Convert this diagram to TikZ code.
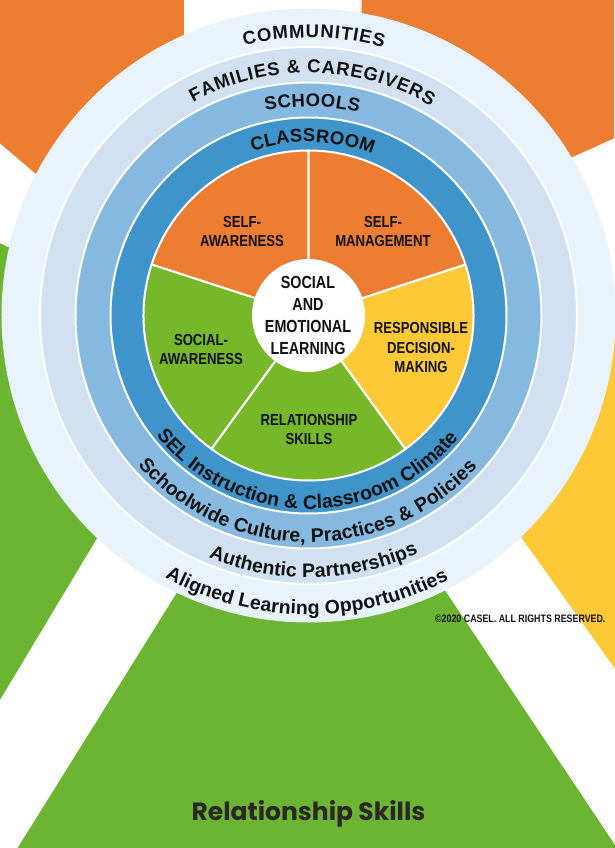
\documentclass[tikz,border=0pt]{standalone}
\usepackage{fontspec}
\setmainfont{Liberation Sans}
\newfontfamily\narrowfont[FakeStretch=0.82]{Liberation Sans}
\newfontfamily\headfont{Poppins}
\usetikzlibrary{decorations.text}
\definecolor{orangeC}{HTML}{ED7D31}
\definecolor{greenC}{HTML}{76B82A}
\definecolor{greenBG}{HTML}{6CB533}
\definecolor{yellowC}{HTML}{FDC936}
\definecolor{ringA}{HTML}{E8F3FB}
\definecolor{ringB}{HTML}{D1E1F1}
\definecolor{ringC}{HTML}{86B9DF}
\definecolor{ringD}{HTML}{3F94CB}
\definecolor{inkC}{HTML}{111111}
\definecolor{headC}{HTML}{2C2722}
\newcommand\arctopfont{\bfseries\fontsize{18.5}{18.5}\selectfont}
\newcommand\arcbotfont{\bfseries\fontsize{19.5}{19.5}\selectfont}
\tikzset{
  ringsep/.style={draw=white, line width=2pt},
  wedge/.style={draw=white, line width=2pt, line join=round},
  wedgelabel/.style={align=center, inner sep=0pt, text=inkC,
    font=\narrowfont\bfseries\fontsize{16}{19.5}\selectfont},
  centerlabel/.style={align=center, inner sep=0pt, text=inkC,
    font=\narrowfont\bfseries\fontsize{17.5}{22}\selectfont},
  arctext/.style={decorate, decoration={text along path, text color=inkC,
    text={#1}, text align={fit to path}}}
}
\begin{document}
\begin{tikzpicture}[x=1pt,y=1pt]
\useasboundingbox (-308.5,-532.5) rectangle (305.5,315.5);
\fill[white] (-308.5,-532.5) rectangle (305.5,315.5);
% background wheel pieces
\fill[orangeC] (-308.5,315.5) -- (-124.5,315.5) -- (-124.5,165.5) -- (-188.5,70) -- (-308.5,172.2) -- cycle;
\fill[orangeC] (53.2,315.5) -- (305.5,315.5) -- (305.5,177.2) -- (264.8,158.8) -- (171.5,116.5) -- (53.2,116.5) -- cycle;
\fill[greenBG] (-308.5,72.2) -- (-208.5,25.5) -- (-128.5,-84.5) -- (-212.5,-224.5) -- (-308.5,-384.5) -- cycle;
\fill[greenBG] (-111.2,-244.5) -- (116.2,-244.5) -- (308.5,-532.5) -- (-290.9,-532.5) -- cycle;
\fill[yellowC] (305.5,15.5) -- (191.5,-4.5) -- (164.7,-154.5) -- (310,-358) -- (310,15.5) -- cycle;
% rings
\fill[ringA] (0,0) circle[radius=307];
\filldraw[fill=ringB, ringsep] (0,0) circle[radius=268.5];
\filldraw[fill=ringC, ringsep] (0,0) circle[radius=233];
\filldraw[fill=ringD, ringsep] (0,0) circle[radius=198];
% wedges
\filldraw[fill=orangeC, wedge] (0,0) -- (90:165) arc[start angle=90, end angle=162, radius=165] -- cycle;
\filldraw[fill=greenC, wedge] (0,0) -- (162:165) arc[start angle=162, end angle=234, radius=165] -- cycle;
\filldraw[fill=greenC, wedge] (0,0) -- (234:165) arc[start angle=234, end angle=306, radius=165] -- cycle;
\filldraw[fill=yellowC, wedge] (0,0) -- (306:165) arc[start angle=306, end angle=378, radius=165] -- cycle;
\filldraw[fill=orangeC, wedge] (0,0) -- (18:165) arc[start angle=18, end angle=90, radius=165] -- cycle;
\filldraw[fill=white, draw=white, line width=1pt] (0,0) circle[radius=56];
% wedge labels
\node[centerlabel] (sel) at (-0.5,0) {SOCIAL\\AND\\EMOTIONAL\\LEARNING};
\node[wedgelabel] (saw) at (-66.5,84) {SELF-\\AWARENESS};
\node[wedgelabel] (smg) at (74.5,84) {SELF-\\MANAGEMENT};
\node[wedgelabel] (soc) at (-107.5,-34) {SOCIAL-\\AWARENESS};
\node[wedgelabel] (rdm) at (112.5,-32) {RESPONSIBLE\\DECISION-\\MAKING};
\node[wedgelabel] (rel) at (0.5,-114) {RELATIONSHIP\\SKILLS};
% curved texts, top
\path[arctext={|\arctopfont|COMMUNITIES}] (103.4:278) arc[start angle=103.4, end angle=74.4, radius=278];
\path[arctext={|\arctopfont|FAMILIES {\&} CAREGIVERS}] (118.4:242.5) arc[start angle=118.4, end angle=59.7, radius=242.5];
\path[arctext={|\arctopfont|SCHOOLS}] (101.8:209) arc[start angle=101.8, end angle=76.1, radius=209];
\path[arctext={|\arctopfont|CLASSROOM}] (108.8:173.5) arc[start angle=108.8, end angle=68.4, radius=173.5];
% curved texts, bottom
\path[arctext={|\arcbotfont|SEL Instruction {\&} Classroom Climate}] (218.2:193.5) arc[start angle=218.2, end angle=320.8, radius=193.5];
\path[arctext={|\arcbotfont|Schoolwide Culture, Practices {\&} Policies}] (221.3:227) arc[start angle=221.3, end angle=318.1, radius=227];
\path[arctext={|\arcbotfont|Authentic Partnerships}] (247.6:262) arc[start angle=247.6, end angle=294.8, radius=262];
\path[arctext={|\arcbotfont|Aligned Learning Opportunities}] (241.3:299) arc[start angle=241.3, end angle=298.0, radius=299];
% other texts
\node[inner sep=0pt, text=inkC, font=\narrowfont\bfseries\fontsize{10.8}{12}\selectfont] (copy) at (211.8,-303.5) {©2020 CASEL. ALL RIGHTS RESERVED.};
\node[inner sep=0pt, anchor=base, text=headC, font=\headfont\bfseries\fontsize{25}{30}\selectfont] (title) at (0,-504.5) {Relationship Skills};
\end{tikzpicture}
\end{document}
